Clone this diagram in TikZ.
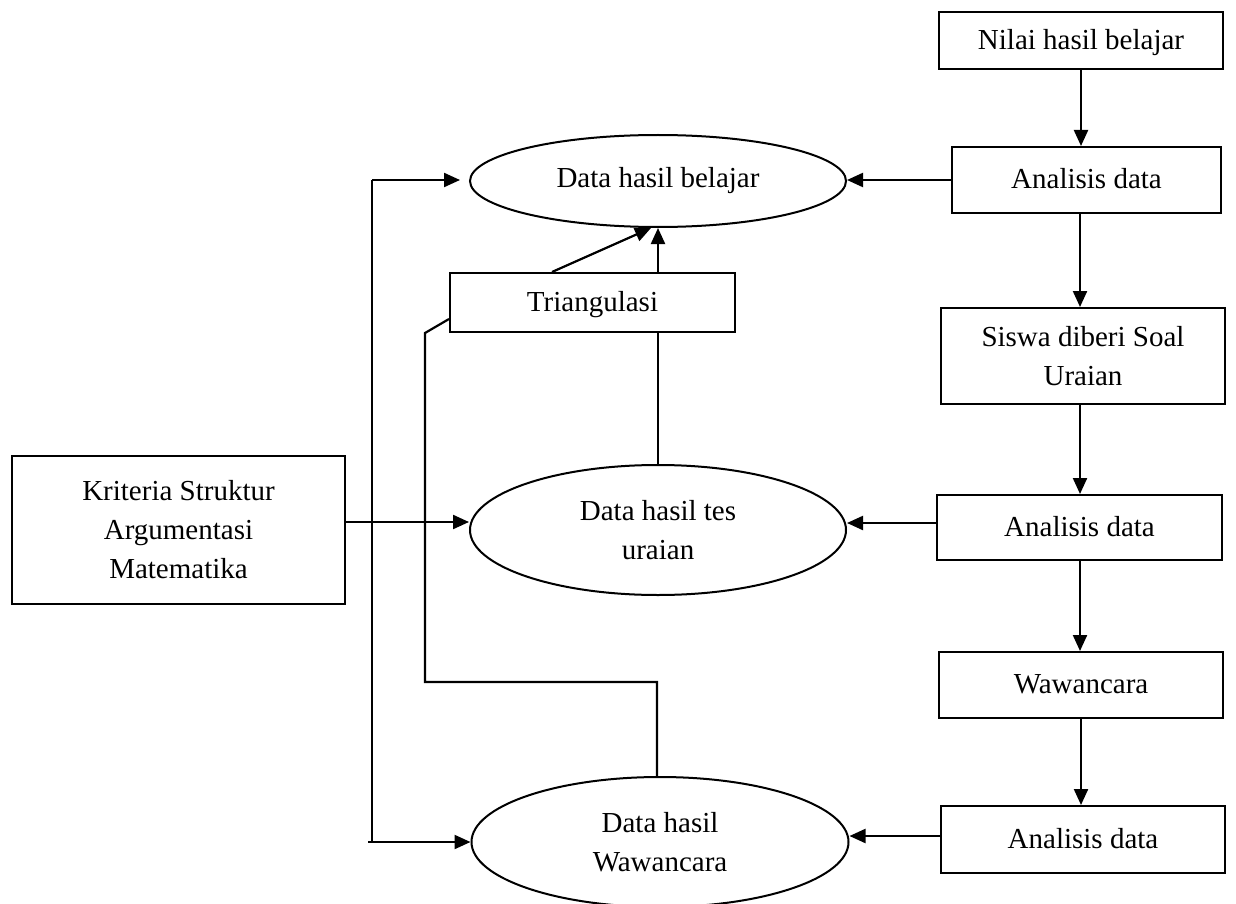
\documentclass[tikz,border=0pt]{standalone}
\usepackage{fontspec}
\setmainfont{Liberation Serif}
\usetikzlibrary{shapes.geometric,arrows.meta,calc}

\tikzset{
  base/.style={draw, line width=2pt, fill=white, inner sep=0pt, align=center,
    font=\fontsize{29}{39}\selectfont},
  box/.style={base, rectangle},
  oval/.style={base, ellipse},
  link/.style={line width=2.2pt},
  arr/.style={link, -{Triangle[length=16pt,width=14pt]}}
}

\begin{document}
\begin{tikzpicture}[x=1pt,y=-1pt]
  \clip (0,0) rectangle (1236,904);
  \useasboundingbox (0,0) rectangle (1236,904);

  % right-hand column of steps
  \node[box, minimum width=284, minimum height=57, text depth=0.25em] (nilai) at (1081,40.5) {Nilai hasil belajar};
  \node[box, minimum width=269, minimum height=66, text depth=0.25em] (an1) at (1086.5,180) {Analisis data};
  \node[box, minimum width=284, minimum height=96] (siswa) at (1083,356) {Siswa diberi Soal\\Uraian};
  \node[box, minimum width=285, minimum height=65, text depth=0.25em] (an2) at (1079.5,527.5) {Analisis data};
  \node[box, minimum width=284, minimum height=66, text depth=0.25em] (waw) at (1081,685) {Wawancara};
  \node[box, minimum width=284, minimum height=67, text depth=0.25em] (an3) at (1083,839.5) {Analisis data};

  % data sets
  \node[oval, minimum width=376, minimum height=92] (e1) at (658,181) {Data hasil belajar};
  \node[oval, minimum width=376, minimum height=130] (e2) at (658,530) {Data hasil tes\\uraian};
  \node[oval, minimum width=377, minimum height=130] (e3) at (660,842) {Data hasil\\Wawancara};

  % criteria and triangulation
  \node[box, minimum width=333, minimum height=148] (krit) at (178.5,530) {Kriteria Struktur\\Argumentasi\\Matematika};
  \node[box, minimum width=285, minimum height=59, text depth=0.25em] (tri) at (592.5,302.5) {Triangulasi};

  % flow down the right column
  \draw[arr] (nilai.south -| 1081,0) -- (an1.north -| 1081,0);
  \draw[arr] (an1.south -| 1080,0) -- (siswa.north -| 1080,0);
  \draw[arr] (siswa.south -| 1080,0) -- (an2.north -| 1080,0);
  \draw[arr] (an2.south -| 1080,0) -- (waw.north -| 1080,0);
  \draw[arr] (waw.south -| 1081,0) -- (an3.north -| 1081,0);

  % analysis results into the data sets
  \draw[arr] (an1.west) -- (an1.west -| e1.east);
  \draw[arr] (an2.west |- 0,523) -- (e2.east |- 0,523);
  \draw[arr] (an3.west |- 0,836) -- (e3.east |- 0,836);

  % criteria feeding the data sets
  \coordinate (busT) at (372,180);
  \coordinate (busB) at (372,842);
  \coordinate (busS) at (368,842);
  \draw[arr] (krit.east |- 0,522) -- (e2.west |- 0,522);
  \draw[link] (busB) -- (busT);
  \draw[arr] (busT) -- (460,180);
  \draw[arr] (busS) -- (e3.west);

  % triangulation links
  \coordinate (wT) at (657,682);
  \coordinate (wL) at (425,682);
  \coordinate (wU) at (425,333);
  \draw[link] (wT |- e3.north) -- (wT) -- (wL) -- (wU) -- (tri.west |- 0,319);
  \draw[link] (e2.north) -- (e2.north |- tri.south);
  \draw[arr] (e2.north |- tri.north) -- (e1.south);
  \draw[arr] ($(tri.north west)+(103,0)$) -- ($(e1.south)+(-7,0)$);
\end{tikzpicture}
\end{document}
